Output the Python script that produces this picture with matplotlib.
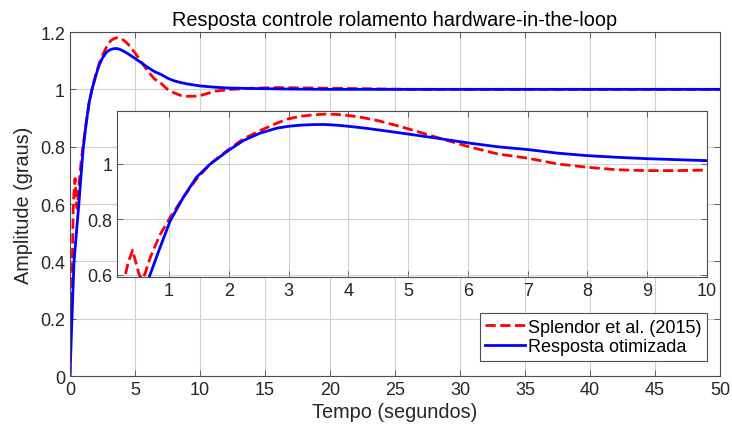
import matplotlib
matplotlib.use("Agg")
import matplotlib.pyplot as plt

# Resposta ao degrau - referencia (Splendor et al., 2015)
t_ref = [0, 0.05, 0.12, 0.18, 0.25, 0.31, 0.39, 0.45, 0.5, 0.55, 0.6, 0.65,
         0.7, 0.85, 1.02, 1.24, 1.46, 1.69, 1.97, 2.24, 2.52, 2.8, 3.0, 3.2,
         3.4, 3.6, 3.8, 4.0, 4.25, 4.5, 4.75, 5.0, 5.48, 6.0, 6.5, 7.0, 7.5,
         8.0, 8.5, 9.0, 9.5, 10.0, 11.2, 12.5, 14, 16, 18, 20, 23, 26, 30, 40, 50]
y_ref = [0, 0.2, 0.3, 0.4, 0.58, 0.64, 0.689, 0.64, 0.6, 0.585, 0.605, 0.64,
         0.67, 0.745, 0.807, 0.88, 0.946, 1.0, 1.048, 1.09, 1.12, 1.147, 1.163, 1.172,
         1.177, 1.18, 1.179, 1.175, 1.167, 1.156, 1.142, 1.127, 1.096, 1.063, 1.036, 1.021, 1.0,
         0.988, 0.979, 0.976, 0.976, 0.978, 0.994, 1.0, 1.004, 1.006, 1.005, 1.004, 1.002, 1.0, 1.0, 1.0, 1.0]

# Resposta otimizada
t_opt = [0, 0.15, 0.31, 0.45, 0.55, 0.67, 0.85, 1.02, 1.24, 1.46, 1.69, 1.99,
         2.24, 2.52, 2.8, 3.0, 3.2, 3.4, 3.6, 3.8, 4.0, 4.25, 4.5, 5.0, 5.48,
         6.0, 6.5, 7.0, 7.5, 8.0, 8.5, 9.0, 10.0, 11, 12, 14, 17, 20, 25, 30, 50]
y_opt = [0, 0.2, 0.4, 0.475, 0.53, 0.593, 0.699, 0.795, 0.88, 0.952, 1.0, 1.048,
         1.084, 1.111, 1.129, 1.136, 1.140, 1.142, 1.1425, 1.140, 1.136, 1.130, 1.123, 1.108, 1.093,
         1.076, 1.062, 1.052, 1.039, 1.03, 1.024, 1.019, 1.012, 1.008, 1.005, 1.003, 1.001, 1.0, 1.0, 1.0, 1.0]

xticks_main = [0, 5, 10, 15, 20, 25, 30, 35, 40, 45, 50]
yticks_main = [0, 0.2, 0.4, 0.6, 0.8, 1.0, 1.2]
xticks_zoom = [1, 2, 3, 4, 5, 6, 7, 8, 9, 10]
yticks_zoom = [0.6, 0.8, 1.0]

plt.rcParams['font.family'] = ['Liberation Sans', 'DejaVu Sans']
plt.rcParams['font.size'] = 13

txt = '#262626'
edge = '#4d4d4d'
gridc = '#d0d0d0'


def fmt(v):
    return '{:g}'.format(v)


def style(ax):
    ax.grid(True, color=gridc, linewidth=0.8)
    ax.set_axisbelow(True)
    for s in ax.spines.values():
        s.set_color(edge)
        s.set_linewidth(0.8)
    ax.tick_params(direction='in', length=4, width=0.6, color=edge,
                   labelcolor=txt, top=True, right=True, labelsize=13)


fig = plt.figure(figsize=(7.32, 4.35), dpi=100)

ax = fig.add_axes([0.0956, 0.1333, 0.888, 0.7908])
l1, = ax.plot(t_ref, y_ref, '--', color='red', linewidth=2, label='Splendor et al. (2015)')
l2, = ax.plot(t_opt, y_opt, '-', color='blue', linewidth=2, label='Resposta otimizada')
ax.set_xlim(0, 50)
ax.set_ylim(0, 1.2)
ax.set_xticks(xticks_main)
ax.set_xticklabels([fmt(v) for v in xticks_main])
ax.set_yticks(yticks_main)
ax.set_yticklabels([fmt(v) for v in yticks_main])
style(ax)
ax.set_xlabel('Tempo (segundos)', color=txt, fontsize=14.3, labelpad=3)
ax.set_ylabel('Amplitude (graus)', color=txt, fontsize=14.3, labelpad=5)
ax.set_title('Resposta controle rolamento hardware-in-the-loop', color='black',
             fontsize=14.3, pad=5)

# detalhe dos primeiros 10 s
axz = fig.add_axes([0.1603, 0.3609, 0.8055, 0.3809])
axz.plot(t_ref, y_ref, '--', color='red', linewidth=2)
axz.plot(t_opt, y_opt, '-', color='blue', linewidth=2)
axz.set_xlim(0.135, 10.0)
axz.set_ylim(0.592, 1.19)
axz.set_xticks(xticks_zoom)
axz.set_xticklabels([fmt(v) for v in xticks_zoom])
axz.set_yticks(yticks_zoom)
axz.set_yticklabels([fmt(v) for v in yticks_zoom])
style(axz)
axz.set_facecolor('white')

leg = ax.legend(handles=[l1, l2], loc='lower right',
                bbox_to_anchor=(0.9663, 0.1685), bbox_transform=fig.transFigure,
                borderaxespad=0, fancybox=False, framealpha=1, fontsize=13,
                handlelength=2.2, handletextpad=0.2, borderpad=0.3, labelspacing=0.15)
leg.get_frame().set_edgecolor(edge)
leg.get_frame().set_linewidth(0.8)
leg.set_zorder(10)
for t in leg.get_texts():
    t.set_color('black')

fig.savefig('out.png', dpi=100, facecolor='white')
